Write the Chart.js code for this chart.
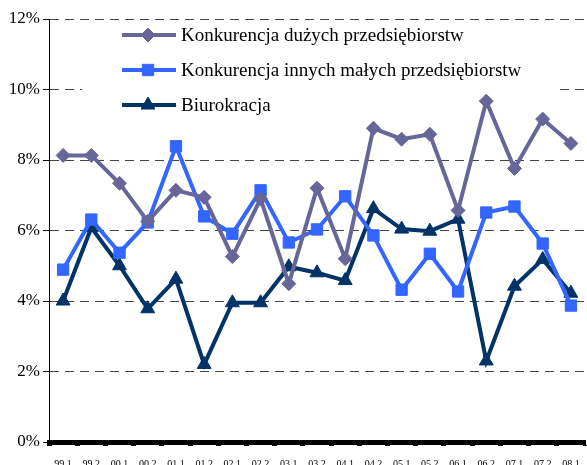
<!DOCTYPE html>
<html><head><meta charset="utf-8">
<script src="https://cdn.jsdelivr.net/npm/chart.js@4"></script>
<style>html,body{margin:0;padding:0;overflow:hidden;background:#fff}#wrap{width:587px;height:482px;position:relative}</style>
</head><body><div id="wrap"><canvas id="c"></canvas></div>
<script>
const categories = ["99.1","99.2","00.1","00.2","01.1","01.2","02.1","02.2","03.1","03.2","04.1","04.2","05.1","05.2","06.1","06.2","07.1","07.2","08.1"];
const duzych = [8.13,8.13,7.34,6.26,7.14,6.94,5.26,6.90,4.49,7.20,5.20,8.90,8.59,8.73,6.57,9.67,7.76,9.16,8.47];
const innych = [4.89,6.31,5.37,6.23,8.39,6.40,5.91,7.14,5.66,6.03,6.97,5.86,4.32,5.34,4.27,6.51,6.68,5.63,3.87];
const biurokracja = [4.0,6.08,5.0,3.78,4.62,2.2,3.95,3.95,4.97,4.80,4.58,6.62,6.04,5.98,6.32,2.3,4.42,5.18,4.22];
const yTicks = [0,2,4,6,8,10,12];
const seriesNames = ["Konkurencja dużych przedsiębiorstw","Konkurencja innych małych przedsiębiorstw","Biurokracja"];
const colors = ["#666699","#3366FF","#003366"];
const markers = ["rectRot","rect","triangle"];
const radii = [7,8,8];

const legendPlugin = {
  id:'customLegend',
  beforeDatasetsDraw(chart){
    const ctx = chart.ctx;
    ctx.save();
    ctx.fillStyle='#fff';
    ctx.fillRect(82,21,478,84);
    ctx.restore();
  },
  afterDraw(chart){
    const ctx = chart.ctx;
    ctx.save();
    const rows=[35,70,105];
    ctx.font='19px "Liberation Serif", "Times New Roman", serif';
    ctx.textBaseline='middle';
    for(let i=0;i<3;i++){
      const y=rows[i];
      ctx.strokeStyle=colors[i];ctx.lineWidth=4;
      ctx.beginPath();ctx.moveTo(122,y);ctx.lineTo(176,y);ctx.stroke();
      ctx.fillStyle=colors[i];ctx.strokeStyle=colors[i];ctx.lineWidth=1;
      Chart.helpers.drawPoint(ctx,{pointStyle:markers[i],radius:radii[i],borderWidth:1},148,y);
      ctx.fillStyle='#000';
      ctx.fillText(seriesNames[i],181,y+1);
    }
    ctx.restore();
  }
};

const datasets = [duzych,innych,biurokracja].map((d,i)=>({
  label:seriesNames[i],data:d,borderColor:colors[i],backgroundColor:colors[i],
  borderWidth:4,pointStyle:markers[i],pointRadius:radii[i],pointBorderWidth:1,
  pointBackgroundColor:colors[i],pointBorderColor:colors[i],tension:0,clip:false
}));

new Chart(document.getElementById('c'),{
  type:'line',
  data:{labels:categories,datasets},
  options:{
    responsive:true,maintainAspectRatio:false,animation:false,
    layout:{autoPadding:false,padding:{top:19,right:2,left:0,bottom:0}},
    plugins:{legend:{display:false},tooltip:{enabled:false}},
    scales:{
      x:{
        offset:true,
        afterFit(s){s.paddingRight=0;s.paddingLeft=0;},
        grid:{display:true,offset:true,drawOnChartArea:false,drawTicks:true,tickLength:4,tickWidth:5,tickColor:'#000'},
        border:{display:true,color:'#000',width:5},
        ticks:{color:'#000',font:{family:'"Liberation Serif", serif',size:10},padding:12,maxRotation:0,autoSkip:false}
      },
      y:{
        min:0,max:12,
        afterFit(s){s.width=49;s.paddingTop=0;s.paddingBottom=0;},
        afterBuildTicks(s){s.ticks=yTicks.map(v=>({value:v}));},
        grid:{color:'#444',lineWidth:1,drawTicks:true,tickLength:6,tickColor:'#000',tickBorderDash:[],borderDash:[9,6]},
        border:{display:true,color:'#000',width:1,dash:[9,6]},
        ticks:{color:'#000',padding:3,font:{family:'"Liberation Serif", serif',size:17},callback:v=>v+'%'}
      }
    }
  },
  plugins:[legendPlugin]
});
</script></body></html>
